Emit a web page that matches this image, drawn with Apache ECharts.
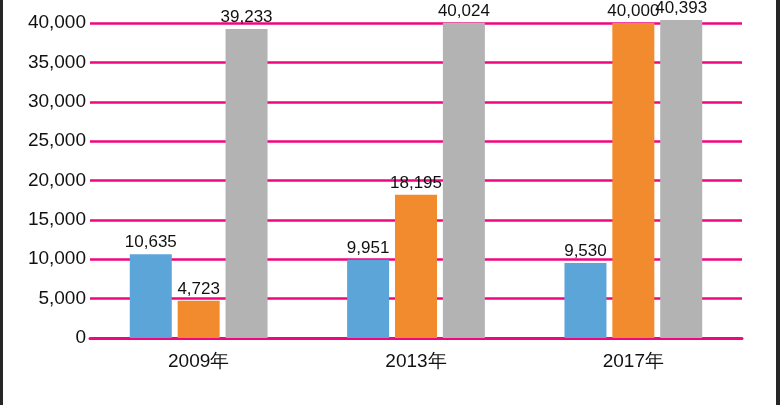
<!DOCTYPE html>
<html>
<head>
<meta charset="utf-8">
<script src="https://cdn.jsdelivr.net/npm/echarts@6/dist/echarts.min.js"></script>
<style>
html,body{margin:0;padding:0;background:#fff;}
#c{width:780px;height:405px;}
</style>
</head>
<body>
<div id="c"></div>
<script>
const categories = ['2009年', '2013年', '2017年'];
const seriesBlue = [10635, 9951, 9530];
const seriesOrange = [4723, 18195, 40000];
const seriesGray = [39233, 40024, 40393];
const yTicks = [0, 5000, 10000, 15000, 20000, 25000, 30000, 35000, 40000];

const fmt = v => v.toLocaleString('en-US');
const font = '"Liberation Sans", Arial, sans-serif';

const labelStyle = {
  show: true,
  position: 'top',
  distance: 3,
  color: '#111',
  fontSize: 17,
  fontFamily: font,
  formatter: p => fmt(p.value)
};

function bar(name, data, color) {
  return {
    name, type: 'bar', data,
    barWidth: 42, barGap: '14%',
    clip: false,
    itemStyle: { color },
    label: labelStyle
  };
}

const chart = echarts.init(document.getElementById('c'));
chart.setOption({
  animation: false,
  backgroundColor: '#ffffff',
  grid: { left: 90, right: 38, top: 23, bottom: 67, containLabel: false },
  xAxis: {
    type: 'category',
    data: categories,
    axisLine: { show: true, lineStyle: { color: '#f0067f', width: 3 } },
    axisTick: { show: false },
    axisLabel: { color: '#111', fontSize: 19, fontFamily: font, margin: 14 }
  },
  yAxis: {
    type: 'value',
    min: yTicks[0], max: yTicks[yTicks.length - 1], interval: 5000,
    axisLine: { show: false },
    axisTick: { show: false },
    splitLine: { lineStyle: { color: '#f0067f', width: 2.5 } },
    axisLabel: { color: '#111', fontSize: 19, fontFamily: font, margin: 4, formatter: v => fmt(v) }
  },
  series: [
    bar('a', seriesBlue, '#5ca5d8'),
    bar('b', seriesOrange, '#f28a2e'),
    bar('c', seriesGray, '#b3b3b3')
  ],
  graphic: [
    { type: 'rect', left: 0, top: 0, shape: { width: 3, height: 405 }, style: { fill: '#262626' } },
    { type: 'rect', left: 776, top: 0, shape: { width: 4, height: 405 }, style: { fill: '#262626' } }
  ]
});
</script>
</body>
</html>
